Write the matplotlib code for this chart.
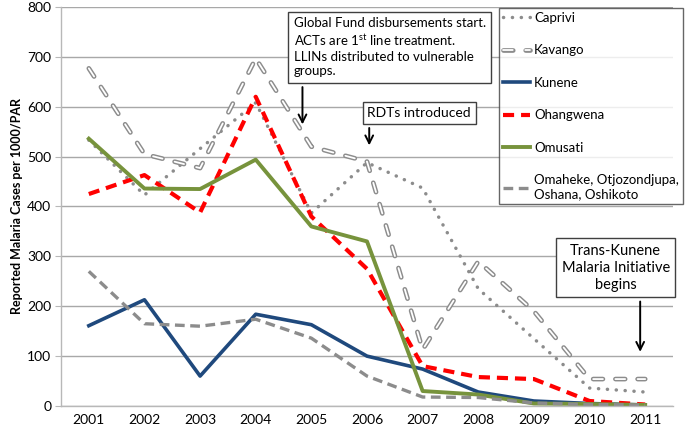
import matplotlib
matplotlib.use("Agg")
import matplotlib.pyplot as plt
import matplotlib.patheffects as pe

plt.rcParams['font.family'] = ['Lato', 'DejaVu Sans']
plt.rcParams['mathtext.fontset'] = 'custom'
plt.rcParams['mathtext.rm'] = 'Lato'
plt.rcParams['lines.scale_dashes'] = False

years = [2001, 2002, 2003, 2004, 2005, 2006, 2007, 2008, 2009, 2010, 2011]
caprivi = [533, 423, 516, 608, 387, 488, 437, 235, 135, 36, 28]
kavango = [677, 505, 477, 697, 520, 490, 113, 290, 190, 54, 54]
kunene = [161, 213, 60, 184, 163, 100, 74, 28, 10, 5, 2]
ohangwena = [425, 463, 388, 620, 380, 275, 80, 58, 54, 10, 3]
omusati = [536, 436, 435, 494, 360, 330, 30, 23, 5, 4, 2]
omaheke = [270, 165, 160, 174, 136, 60, 18, 17, 6, 3, 2]

fig = plt.figure(figsize=(6.85, 4.3), dpi=100)
ax = fig.add_axes([61 / 685, 1 - 406 / 430, 612 / 685, 399 / 430])

grid_c = '#a8a8a8'
ax.set_ylim(0, 800)
ax.set_xlim(2000.5, 2011.5)
ax.set_yticks(range(0, 801, 100))
ax.set_xticks(years)
ax.yaxis.grid(True, color=grid_c, linewidth=1)
ax.set_axisbelow(True)
for s in ['top', 'right']:
    ax.spines[s].set_visible(False)
for s in ['left', 'bottom']:
    ax.spines[s].set_color('#b8b8b8')
    ax.spines[s].set_linewidth(1)
ax.tick_params(axis='y', colors='#b8b8b8', length=4, labelcolor='black', labelsize=10, pad=3)
ax.tick_params(axis='x', length=0, labelsize=10, pad=6)
ax.set_ylabel('Reported Malaria Cases per 1000/PAR', fontsize=9, fontweight='bold', labelpad=3)

gray = '#8c8c8c'
ax.plot(years, caprivi, color=gray, lw=2.5, linestyle=(0, (0.1, 6.3)),
        dash_capstyle='round', label='Caprivi')
ax.plot(years, kavango, color='white', lw=1.3, linestyle=(0, (7, 9)),
        dash_capstyle='round', label='Kavango',
        path_effects=[pe.Stroke(linewidth=3.4, foreground=gray), pe.Normal()])
ax.plot(years, kunene, color='#1f497d', lw=2.6, label='Kunene')
ax.plot(years, ohangwena, color='#ff0000', lw=3, linestyle=(0, (8, 5)),
        label='Ohangwena')
ax.plot(years, omusati, color='#77933c', lw=2.8, label='Omusati')
ax.plot(years, omaheke, color=gray, lw=2.4, linestyle=(0, (7, 4)),
        label='Omaheke, Otjozondjupa,\nOshana, Oshikoto')

leg = ax.legend(loc='upper right', bbox_to_anchor=(683 / 685, 1 - 8 / 430),
                bbox_transform=fig.transFigure,
                fontsize=9.5, frameon=True, fancybox=False, borderaxespad=0,
                handlelength=2.05, handletextpad=0.3, labelspacing=1.55,
                borderpad=0.3)
leg.get_frame().set_edgecolor('#404040')
leg.get_frame().set_linewidth(1)
leg.set_zorder(6)

arrow = dict(arrowstyle='->', color='black', lw=1.4, mutation_scale=14)

ax.text(2004.68, 779, 'Global Fund disbursements start.\n'
        'ACTs are 1$^{\\rm st}$ line treatment.\n'
        'LLINs distributed to vulnerable\ngroups.',
        ha='left', va='top', fontsize=9.5, linespacing=1.25, zorder=5,
        bbox=dict(boxstyle='square,pad=0.4', facecolor='white',
                  edgecolor='#404040', linewidth=1))
ax.annotate('', xy=(2004.84, 559), xytext=(2004.84, 645), arrowprops=arrow, zorder=5)

ax.text(2006.94, 588, 'RDTs introduced', ha='center', va='center', fontsize=10,
        zorder=5, bbox=dict(boxstyle='square,pad=0.35', facecolor='white',
                            edgecolor='#404040', linewidth=1))
ax.annotate('', xy=(2006.04, 517), xytext=(2006.04, 563), arrowprops=arrow, zorder=5)

ax.text(2010.47, 277, 'Trans-Kunene\nMalaria Initiative\nbegins', ha='center',
        va='center', fontsize=10.5, linespacing=1.3, zorder=5,
        bbox=dict(boxstyle='square,pad=0.35', facecolor='white',
                  edgecolor='#404040', linewidth=1))
ax.annotate('', xy=(2010.91, 103), xytext=(2010.91, 215), arrowprops=arrow, zorder=5)

fig.savefig('out.png', dpi=100)
